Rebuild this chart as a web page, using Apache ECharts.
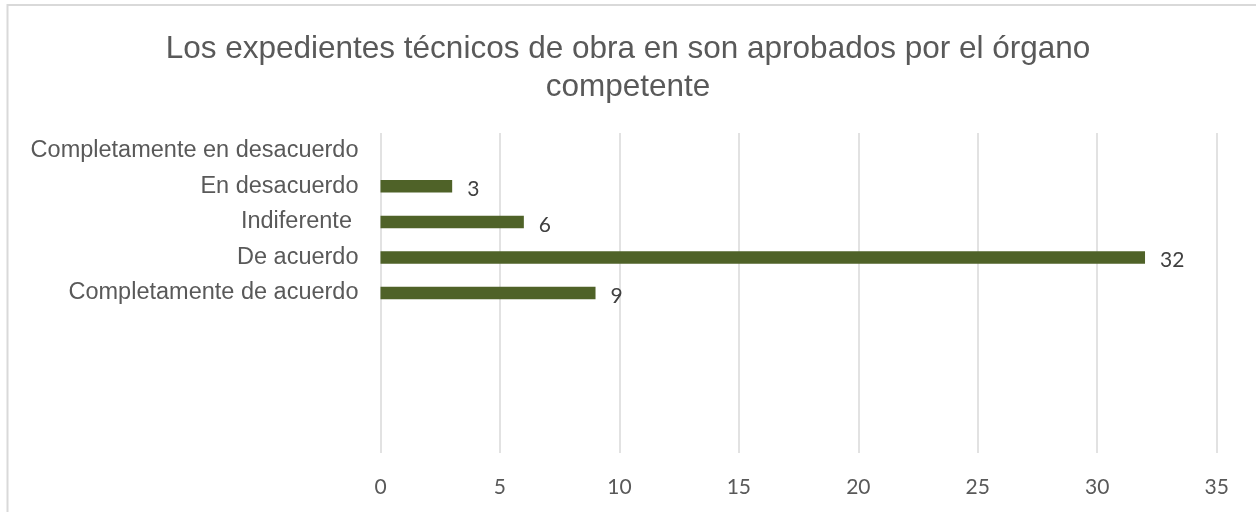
<!DOCTYPE html>
<html>
<head>
<meta charset="utf-8">
<script src="https://cdn.jsdelivr.net/npm/echarts@6/dist/echarts.min.js"></script>
<style>
  html, body { margin: 0; padding: 0; background: #fff; }
  #chart { width: 1256px; height: 512px; }
</style>
</head>
<body>
<div id="chart"></div>
<script>
// datos (de arriba hacia abajo)
const titleText = 'Los expedientes técnicos de obra en son aprobados por el órgano\ncompetente';
const categories = ['Completamente en desacuerdo', 'En desacuerdo', 'Indiferente ', 'De acuerdo', 'Completamente de acuerdo', '', '', '', ''];
const values = [null, 3, 6, 32, 9, null, null, null, null];
const xTicks = { min: 0, max: 35, interval: 5 };

const chart = echarts.init(document.getElementById('chart'));

const option = {
  backgroundColor: '#ffffff',
  animation: false,
  title: {
    text: titleText,
    left: 'center',
    top: 25,
    textStyle: {
      fontFamily: 'Liberation Sans, Arial, sans-serif',
      fontSize: 31.5,
      fontWeight: 'normal',
      color: '#595959',
      lineHeight: 38
    }
  },
  // marco del gráfico (solo se ven borde superior e izquierdo)
  graphic: [
    {
      type: 'rect',
      shape: { x: 7.5, y: 5, width: 1400, height: 700 },
      style: { fill: 'none', stroke: '#d9d9d9', lineWidth: 2 },
      silent: true
    }
  ],
  grid: { left: 380.5, right: 39.3, top: 133, bottom: 59 },
  xAxis: {
    type: 'value',
    min: xTicks.min,
    max: xTicks.max,
    interval: xTicks.interval,
    axisLine: { show: false },
    axisTick: { show: false },
    splitLine: { show: true, lineStyle: { color: '#d9d9d9', width: 1.5 } },
    axisLabel: {
      fontFamily: 'Lato, sans-serif',
      fontSize: 21,
      color: '#595959',
      margin: 24
    }
  },
  yAxis: {
    type: 'category',
    inverse: true,
    data: categories,
    axisLine: { show: false },
    axisTick: { show: false },
    splitLine: { show: false },
    axisLabel: {
      fontFamily: 'Liberation Sans, Arial, sans-serif',
      fontSize: 23.5,
      color: '#595959',
      margin: 22
    }
  },
  series: [
    {
      type: 'bar',
      data: values,
      barWidth: 12.5,
      itemStyle: { color: '#4f6228' },
      label: {
        show: true,
        position: 'right',
        distance: 15,
        offset: [0, 3],
        fontFamily: 'Lato, sans-serif',
        fontSize: 21,
        color: '#404040'
      }
    }
  ]
};

chart.setOption(option);
</script>
</body>
</html>
